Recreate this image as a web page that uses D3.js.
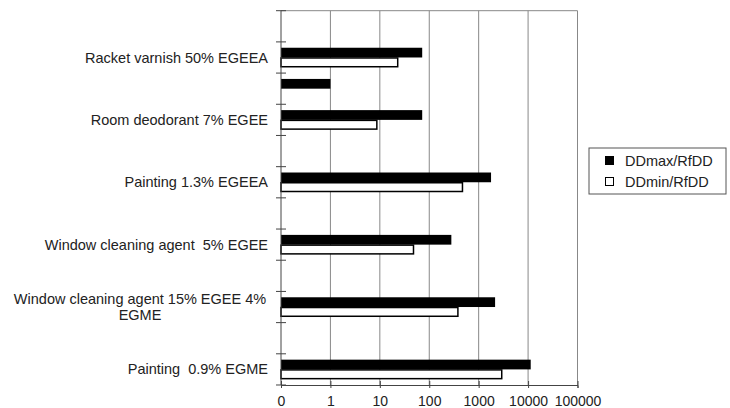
<!DOCTYPE html>
<html>
<head>
<meta charset="utf-8">
<script src="https://cdn.jsdelivr.net/npm/d3@7"></script>
<style>
  body { margin: 0; background: #fff; }
  text { font-family: "Liberation Sans", Arial, sans-serif; fill: #222; }
</style>
</head>
<body>
<div id="chart"></div>
<script>
// categories listed top to bottom (empty slots have hidden labels)
const categories = ["", "Racket varnish 50% EGEEA", "", "Room deodorant 7% EGEE", "",
  "Painting 1.3% EGEEA", "", "Window cleaning agent  5% EGEE", "",
  "Window cleaning agent 15% EGEE 4%|EGME", "", "Painting  0.9% EGME"];
const ddMax = [null, 72, 1.0, 72, null, 1780, null, 280, null, 2150, null, 11300];
const ddMin = [null, 23, null, 8.7, null, 470, null, 48, null, 380, null, 2930];
const seriesNames = ["DDmax/RfDD", "DDmin/RfDD"];
const tickValues = [0.1, 1, 10, 100, 1000, 10000, 100000];
const tickLabels = ["0", "1", "10", "100", "1000", "10000", "100000"];

const W = 730, H = 408;
const margin = {top: 10.7, right: 152.5, bottom: 23, left: 281},
  width = W - margin.left - margin.right,
  height = H - margin.top - margin.bottom;

const svg = d3.select("#chart").append("svg")
  .attr("width", W).attr("height", H);
const g = svg.append("g")
  .attr("transform", `translate(${margin.left},${margin.top})`);

const x = d3.scaleLog().domain([0.1, 100000]).range([0, width]);
const y = d3.scaleBand().domain(d3.range(categories.length)).range([0, height]);
const ySub = d3.scaleBand().domain(seriesNames).range([0, y.bandwidth()])
  .paddingInner(0).paddingOuter(0.6);

// gridlines + top/right border
g.append("g").selectAll("line")
  .data(tickValues.slice(1))
  .join("line")
    .attr("x1", d => x(d)).attr("x2", d => x(d))
    .attr("y1", 0).attr("y2", height)
    .attr("stroke", "#888").attr("stroke-width", 1);
g.append("line").attr("x1", 0).attr("x2", width).attr("y1", 0).attr("y2", 0)
  .attr("stroke", "#888");

// bars
const rows = categories.map((c, i) => ({i, max: ddMax[i], min: ddMin[i]}));
const barG = g.append("g").selectAll("g")
  .data(rows)
  .join("g")
    .attr("transform", d => `translate(0,${y(d.i)})`);
barG.filter(d => d.max != null).append("rect")
  .attr("x", 0)
  .attr("y", ySub(seriesNames[0]))
  .attr("width", d => x(d.max))
  .attr("height", ySub.bandwidth())
  .attr("fill", "#000");
barG.filter(d => d.min != null).append("rect")
  .attr("x", 0)
  .attr("y", ySub(seriesNames[1]) + 0.5)
  .attr("width", d => x(d.min))
  .attr("height", ySub.bandwidth() - 1)
  .attr("fill", "#fff")
  .attr("stroke", "#000").attr("stroke-width", 1.5);

// x axis
const xAxis = g.append("g")
  .attr("transform", `translate(0,${height})`)
  .call(d3.axisBottom(x).tickValues(tickValues)
    .tickFormat((d, i) => tickLabels[i]).tickSize(3).tickPadding(8));
xAxis.select(".domain").attr("stroke", "#444");
xAxis.selectAll(".tick line").attr("y1", -4).attr("stroke", "#444");
xAxis.selectAll(".tick text").style("font-size", "14px")
  .style("font-family", "'Liberation Sans', Arial, sans-serif").attr("fill", "#222");

// y axis line with crossing ticks at band edges
g.append("line").attr("x1", 0).attr("x2", 0).attr("y1", 0).attr("y2", height)
  .attr("stroke", "#444");
const edges = d3.range(categories.length + 1)
  .map(i => i < categories.length ? y(i) : height);
g.append("g").selectAll("line")
  .data(edges)
  .join("line")
    .attr("x1", -5).attr("x2", 5)
    .attr("y1", d => d).attr("y2", d => d)
    .attr("stroke", "#444");

// category labels
const labels = g.append("g").selectAll("text")
  .data(rows.filter(d => categories[d.i] !== ""))
  .join("text")
    .attr("y", d => y(d.i) + y.bandwidth() / 2)
    .style("font-size", "14.5px")
    .style("white-space", "pre");
labels.each(function(d) {
  const parts = categories[d.i].split("|");
  const t = d3.select(this);
  if (parts.length === 1) {
    t.attr("x", -13).attr("text-anchor", "end").attr("dy", "0.35em").text(parts[0]);
  } else {
    // wrapped label: lines centred on each other, block right-aligned
    t.attr("text-anchor", "middle");
    parts.forEach((p, k) => {
      t.append("tspan").attr("x", -141)
        .attr("dy", k === 0 ? "-0.22em" : "1.15em").text(p);
    });
  }
});

// legend
const legend = svg.append("g").attr("transform", "translate(589,148)");
legend.append("rect").attr("width", 137).attr("height", 46)
  .attr("fill", "#fff").attr("stroke", "#555");
seriesNames.forEach((s, i) => {
  legend.append("rect")
    .attr("x", 16.5).attr("y", 8.5 + i * 21)
    .attr("width", 8).attr("height", 8)
    .attr("fill", i === 0 ? "#000" : "#fff")
    .attr("stroke", "#000");
  legend.append("text")
    .attr("x", 36).attr("y", 13 + i * 21).attr("dy", "0.35em")
    .style("font-size", "14.5px").text(s);
});
</script>
</body>
</html>
